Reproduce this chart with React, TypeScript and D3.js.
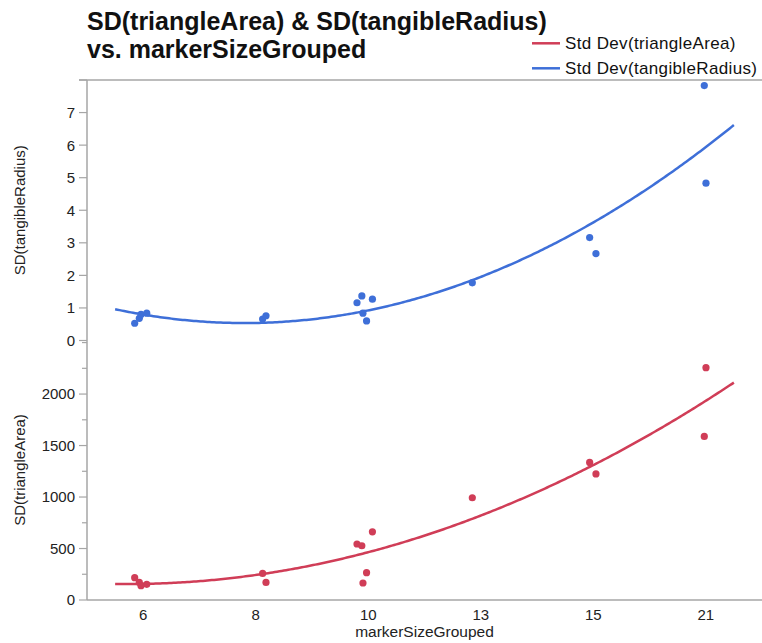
import React from 'react';
import * as d3 from 'd3';

// Grouped marker sizes (ordinal x axis)
const categories = ['6', '8', '10', '13', '15', '21'];
// Category index of each row and its horizontal jitter (in category units)
const groupIndex = [0, 0, 0, 0, 1, 1, 2, 2, 2, 2, 2, 3, 4, 4, 5, 5];
const jitter = [-0.076, -0.035, -0.02, 0.031, 0.061, 0.091, -0.1, -0.057, -0.047, -0.015, 0.037, -0.075, -0.032, 0.024, -0.013, 0.002];
// Standard deviations per row
const sdTriangleArea = [217, 171, 139, 152, 258, 171, 544, 527, 165, 265, 662, 993, 1336, 1224, 1589, 2256];
const sdTangibleRadius = [0.53, 0.68, 0.8, 0.84, 0.66, 0.76, 1.16, 1.37, 0.84, 0.6, 1.27, 1.77, 3.16, 2.67, 7.83, 4.83];
// Axis ticks
const radiusTicks = [0, 1, 2, 3, 4, 5, 6, 7, 8];
const radiusLabels = [0, 1, 2, 3, 4, 5, 6, 7];
const areaTicks = [0, 500, 1000, 1500, 2000];
const areaMinorTicks = [250, 750, 1250, 1750, 2250, 2500];

const RED = '#d03d57';
const BLUE = '#3e6fd8';
const AXIS = '#a6a6a6';
const FONT = 'Liberation Sans, Arial, Helvetica, sans-serif';

// Least-squares quadratic fit y = a + b x + c x^2
function quadFit(xs: number[], ys: number[]) {
  const n = xs.length;
  let s1 = 0, s2 = 0, s3 = 0, s4 = 0, t0 = 0, t1 = 0, t2 = 0;
  for (let i = 0; i < n; i++) {
    const x = xs[i], y = ys[i];
    s1 += x; s2 += x * x; s3 += x * x * x; s4 += x * x * x * x;
    t0 += y; t1 += x * y; t2 += x * x * y;
  }
  const M = [
    [n, s1, s2, t0],
    [s1, s2, s3, t1],
    [s2, s3, s4, t2],
  ];
  for (let c = 0; c < 3; c++) {
    let p = c;
    for (let r = c + 1; r < 3; r++) if (Math.abs(M[r][c]) > Math.abs(M[p][c])) p = r;
    [M[c], M[p]] = [M[p], M[c]];
    for (let r = 0; r < 3; r++) {
      if (r === c) continue;
      const f = M[r][c] / M[c][c];
      for (let k = c; k < 4; k++) M[r][k] -= f * M[c][k];
    }
  }
  const a = M[0][3] / M[0][0], b = M[1][3] / M[1][1], c2 = M[2][3] / M[2][2];
  return (x: number) => a + b * x + c2 * x * x;
}

export default function App() {
  const W = 762, H = 643;
  const left = 87, right = 762, top = 80, bottom = 600;

  const xPoint = d3.scalePoint<string>().domain(categories).range([left, right]).padding(0.5);
  const xPos = d3.scaleLinear().domain([-0.5, categories.length - 0.5]).range([left, right]);
  const yRadius = d3.scaleLinear().domain([0, 8]).range([340.5, top]);
  const yArea = d3.scaleLinear().domain([0, 2525]).range([bottom, 340]);

  const xs = groupIndex.map((g, i) => g + jitter[i]);
  const fitArea = quadFit(xs, sdTriangleArea);
  const fitRadius = quadFit(xs, sdTangibleRadius);
  const grid = d3.range(-0.25, 5.2601, 0.02);

  const areaLine = d3.line<number>().x((t) => xPos(t)).y((t) => yArea(fitArea(t))).curve(d3.curveLinear);
  const radiusLine = d3.line<number>().x((t) => xPos(t)).y((t) => yRadius(fitRadius(t))).curve(d3.curveLinear);

  return (
    <svg width={W} height={H} style={{ position: 'absolute', left: 0, top: 0, background: '#fff' }} fontFamily={FONT}>
      {/* Title */}
      <text x={87} y={29.5} fontSize={25} fontWeight="bold" fill="#111">SD(triangleArea) &amp; SD(tangibleRadius)</text>
      <text x={87} y={57.5} fontSize={25} fontWeight="bold" fill="#111">vs. markerSizeGrouped</text>

      {/* Legend */}
      <line x1={532} x2={560} y1={43.3} y2={43.3} stroke={RED} strokeWidth={2.5} />
      <text x={565} y={48.8} fontSize={17} letterSpacing={0.35} fill="#111">Std Dev(triangleArea)</text>
      <line x1={532} x2={560} y1={68.3} y2={68.3} stroke={BLUE} strokeWidth={2.5} />
      <text x={565} y={73.8} fontSize={17} letterSpacing={0.35} fill="#111">Std Dev(tangibleRadius)</text>

      {/* Frame lines */}
      <line x1={79} x2={right} y1={top} y2={top} stroke={AXIS} strokeWidth={1.5} />
      <line x1={left} x2={left} y1={top} y2={bottom} stroke={AXIS} strokeWidth={1.5} />
      <line x1={left} x2={right} y1={bottom} y2={bottom} stroke={AXIS} strokeWidth={1.5} />

      {/* Top panel y axis */}
      {radiusTicks.map((v) => (
        <line key={'rt' + v} x1={79} x2={left} y1={yRadius(v)} y2={yRadius(v)} stroke={AXIS} strokeWidth={1.2} />
      ))}
      {radiusLabels.map((v) => (
        <text key={'rl' + v} x={75} y={yRadius(v)} dy="0.36em" textAnchor="end" fontSize={15} fill="#222">{v}</text>
      ))}
      <text transform={`translate(25,${(top + 340.5) / 2}) rotate(-90)`} textAnchor="middle" fontSize={15} fill="#222">SD(tangibleRadius)</text>

      {/* Bottom panel y axis */}
      {areaTicks.map((v) => (
        <line key={'at' + v} x1={79} x2={left} y1={yArea(v)} y2={yArea(v)} stroke={AXIS} strokeWidth={1.2} />
      ))}
      {areaMinorTicks.map((v) => (
        <line key={'am' + v} x1={82} x2={left} y1={yArea(v)} y2={yArea(v)} stroke={AXIS} strokeWidth={1.2} />
      ))}
      {areaTicks.map((v) => (
        <text key={'al' + v} x={75} y={yArea(v)} dy="0.36em" textAnchor="end" fontSize={15} fill="#222">{v}</text>
      ))}
      <text transform={`translate(25,${(340 + bottom) / 2}) rotate(-90)`} textAnchor="middle" fontSize={15} fill="#222">SD(triangleArea)</text>

      {/* X axis */}
      {categories.map((c) => (
        <text key={'xl' + c} x={xPoint(c)} y={620} textAnchor="middle" fontSize={15} fill="#222">{c}</text>
      ))}
      <text x={(left + right) / 2} y={637} textAnchor="middle" fontSize={15.5} fill="#222">markerSizeGrouped</text>

      {/* Fit curves */}
      <path d={radiusLine(grid) || ''} fill="none" stroke={BLUE} strokeWidth={2.5} />
      <path d={areaLine(grid) || ''} fill="none" stroke={RED} strokeWidth={2.5} />

      {/* Points */}
      {xs.map((t, i) => (
        <circle key={'bp' + i} cx={xPos(t)} cy={yRadius(sdTangibleRadius[i])} r={3.6} fill={BLUE} />
      ))}
      {xs.map((t, i) => (
        <circle key={'rp' + i} cx={xPos(t)} cy={yArea(sdTriangleArea[i])} r={3.6} fill={RED} />
      ))}
    </svg>
  );
}
